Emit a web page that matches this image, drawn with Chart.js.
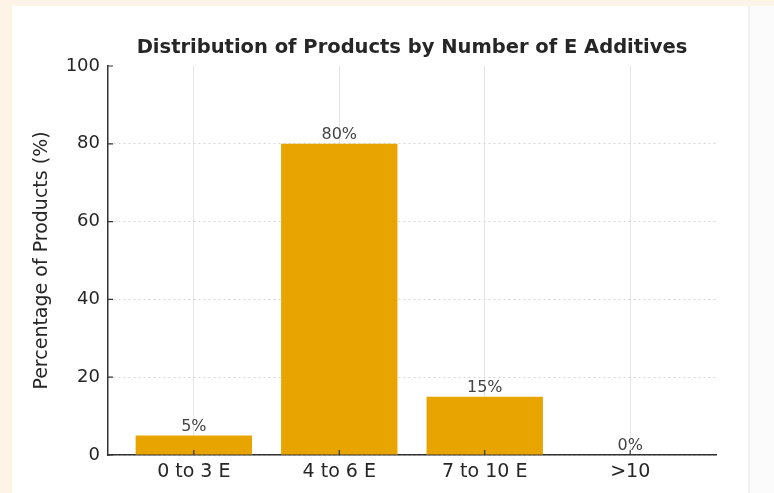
<!DOCTYPE html>
<html>
<head>
<meta charset="utf-8">
<script src="https://cdn.jsdelivr.net/npm/chart.js@4"></script>
<style>
    html, body {
        margin: 0;
        padding: 0;
        width: 774px;
        height: 493px;
        overflow: hidden;
        background: #fdf3e6;
    }
    #panel {
        position: absolute;
        left: 12px;
        top: 6px;
        width: 736px;
        height: 487px;
        background: #ffffff;
        border-right: 2px solid #f0f0f0;
    }
    #side {
        position: absolute;
        left: 750px;
        top: 6px;
        width: 24px;
        height: 487px;
        background: #fbfbfb;
    }
    #chart-box {
        position: absolute;
        left: 0;
        top: 0;
        width: 774px;
        height: 493px;
    }
</style>
</head>
<body>
<div id="panel"></div>
<div id="side"></div>
<div id="chart-box"><canvas id="chart"></canvas></div>
<script>
    const categories = ['0 to 3 E', '4 to 6 E', '7 to 10 E', '>10'];
    const percentages = [5, 80, 15, 0];
    const yTicks = [0, 20, 40, 60, 80, 100];

    const barColor = '#e8a400';
    const font = '"DejaVu Sans", sans-serif';

    // labels above the bars, e.g. "80%"
    const valueLabels = {
        id: 'valueLabels',
        afterDatasetsDraw(chart) {
            const ctx = chart.ctx;
            const meta = chart.getDatasetMeta(0);
            ctx.save();
            ctx.font = '16px ' + font;
            ctx.fillStyle = '#444444';
            ctx.textAlign = 'center';
            ctx.textBaseline = 'bottom';
            meta.data.forEach(function (bar, i) {
                ctx.fillText(percentages[i] + '%', bar.x, bar.y - 1);
            });
            ctx.restore();
        }
    };

    // ticks pointing into the plot, like the original
    const innerTicks = {
        id: 'innerTicks',
        afterDatasetsDraw(chart) {
            const ctx = chart.ctx;
            const area = chart.chartArea;
            const x = chart.scales.x;
            const y = chart.scales.y;
            ctx.save();
            ctx.strokeStyle = '#333333';
            ctx.lineWidth = 1.2;
            ctx.beginPath();
            categories.forEach(function (c, i) {
                const px = x.getPixelForValue(i);
                ctx.moveTo(px, area.bottom);
                ctx.lineTo(px, area.bottom - 5);
            });
            yTicks.forEach(function (v) {
                const py = y.getPixelForValue(v);
                ctx.moveTo(area.left, py);
                ctx.lineTo(area.left + 5, py);
            });
            ctx.stroke();
            ctx.restore();
        }
    };

    const chartTitle = {
        id: 'chartTitle',
        afterDraw(chart) {
            const ctx = chart.ctx;
            ctx.save();
            ctx.font = 'bold 19.5px ' + font;
            ctx.fillStyle = '#262626';
            ctx.textAlign = 'center';
            ctx.textBaseline = 'middle';
            ctx.fillText('Distribution of Products by Number of E Additives', 412, 48);
            ctx.restore();
        }
    };

    const points = categories.map((c, i) => ({x: i, y: percentages[i]}));

    new Chart(document.getElementById('chart'), {
        type: 'bar',
        data: {
            datasets: [{
                data: points,
                backgroundColor: barColor,
                borderWidth: 0,
                barPercentage: 0.8,
                categoryPercentage: 1
            }]
        },
        options: {
            responsive: true,
            maintainAspectRatio: false,
            animation: false,
            layout: {
                padding: {top: 66, right: 58, bottom: 0, left: 0}
            },
            plugins: {
                legend: {display: false},
                tooltip: {enabled: false},
                title: {display: false}
            },
            scales: {
                x: {
                    type: 'linear',
                    offset: false,
                    min: -0.59,
                    max: 3.59,
                    ticks: {
                        stepSize: 1,
                        color: '#262626',
                        font: {family: font, size: 19},
                        padding: 6,
                        callback: function (v) {
                            return Number.isInteger(v) ? categories[v] : '';
                        }
                    },
                    afterBuildTicks: function (scale) {
                        scale.ticks = scale.ticks.filter(t => Number.isInteger(t.value));
                    },
                    afterFit: function (scale) {
                        scale.height = 38;
                    },
                    grid: {
                        offset: false,
                        color: '#e4e4e4',
                        lineWidth: 1,
                        drawTicks: false
                    },
                    border: {
                        display: true,
                        color: '#333333',
                        width: 1.5
                    }
                },
                y: {
                    min: 0,
                    max: 100,
                    afterBuildTicks: function (scale) {
                        scale.ticks = yTicks.map(v => ({value: v}));
                    },
                    afterFit: function (scale) {
                        scale.width = 108;
                    },
                    ticks: {
                        color: '#262626',
                        font: {family: font, size: 18},
                        padding: 8
                    },
                    grid: {
                        color: function (c) {
                            return c.tick && c.tick.value === 100 ? 'rgba(0,0,0,0)' : '#d6d6d6';
                        },
                        lineWidth: 1,
                        drawTicks: false
                    },
                    border: {
                        display: true,
                        color: '#333333',
                        width: 1.5,
                        dash: [2, 3]
                    },
                    title: {
                        display: true,
                        text: 'Percentage of Products (%)',
                        color: '#262626',
                        font: {family: font, size: 19},
                        padding: {top: 31, bottom: 0}
                    }
                }
            }
        },
        plugins: [valueLabels, innerTicks, chartTitle]
    });
</script>
</body>
</html>
